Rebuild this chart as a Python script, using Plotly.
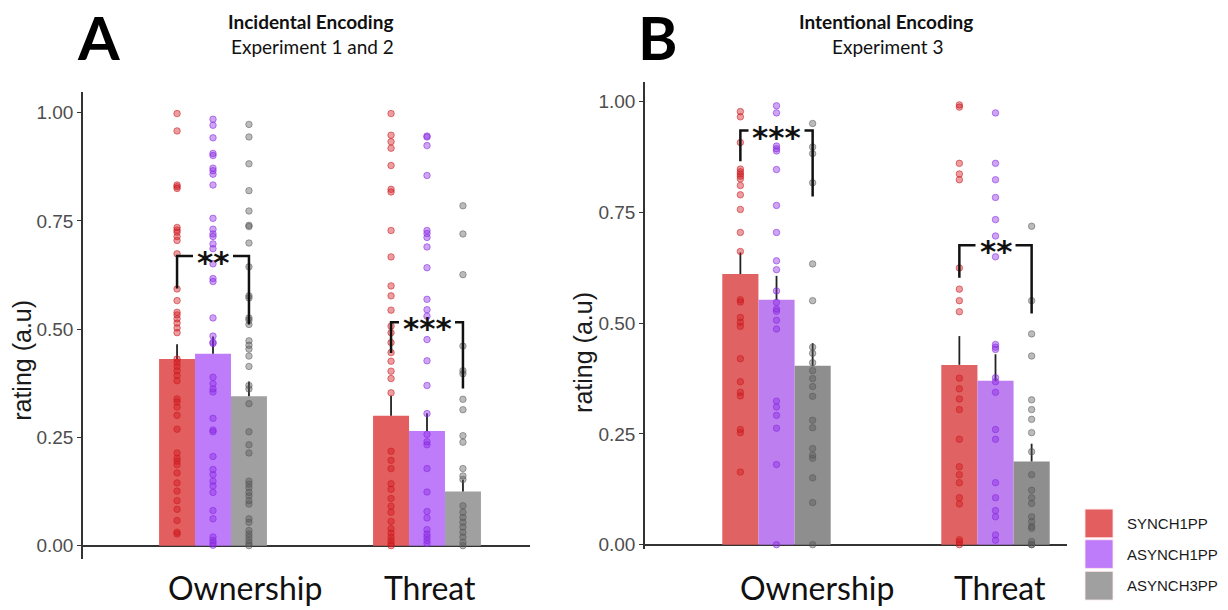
import plotly.graph_objects as go

W, H = 1228, 610

categories = ["Ownership", "Threat"]
conditions = ["SYNCH1PP", "ASYNCH1PP", "ASYNCH3PP"]

# ---------------- Panel A: Incidental Encoding (Experiment 1 and 2) ----------------
a_means_own = [0.431, 0.443, 0.345]
a_means_thr = [0.300, 0.265, 0.125]
a_err_own = [0.034, 0.040, 0.034]
a_err_thr = [0.046, 0.041, 0.027]

a_own_synch1 = [0.998, 0.958, 0.833, 0.829, 0.825, 0.735, 0.729, 0.724, 0.714, 0.705, 0.674,
                0.593, 0.566, 0.539, 0.533, 0.524, 0.514, 0.503, 0.492, 0.431, 0.423, 0.414,
                0.404, 0.393, 0.381, 0.339, 0.332, 0.320, 0.301, 0.269, 0.214, 0.202, 0.195,
                0.187, 0.168, 0.145, 0.126, 0.104, 0.084, 0.058, 0.031, 0.027]
a_own_asynch1 = [0.985, 0.971, 0.942, 0.906, 0.901, 0.872, 0.866, 0.858, 0.833, 0.756, 0.731,
                 0.720, 0.714, 0.697, 0.686, 0.651, 0.617, 0.610, 0.526, 0.484, 0.470, 0.467,
                 0.389, 0.374, 0.362, 0.355, 0.294, 0.267, 0.263, 0.206, 0.176, 0.164, 0.149,
                 0.138, 0.123, 0.081, 0.062, 0.020, 0.012, 0.006, 0.001]
a_own_asynch3 = [0.973, 0.944, 0.882, 0.820, 0.773, 0.740, 0.737, 0.699, 0.644, 0.577, 0.572,
                 0.526, 0.521, 0.511, 0.473, 0.463, 0.454, 0.438, 0.414, 0.370, 0.362, 0.328,
                 0.263, 0.233, 0.214, 0.149, 0.142, 0.134, 0.123, 0.115, 0.104, 0.096, 0.062,
                 0.054, 0.035, 0.027, 0.020, 0.012, 0.005, 0.000]
a_thr_synch1 = [0.998, 0.948, 0.933, 0.918, 0.878, 0.823, 0.817, 0.728, 0.667, 0.600, 0.577,
                0.544, 0.507, 0.492, 0.469, 0.446, 0.426, 0.403, 0.386, 0.353, 0.218, 0.197,
                0.178, 0.143, 0.130, 0.109, 0.091, 0.077, 0.056, 0.039, 0.029, 0.020, 0.012,
                0.005, 0.000]
a_thr_asynch1 = [0.946, 0.944, 0.924, 0.855, 0.728, 0.721, 0.712, 0.690, 0.642, 0.569, 0.545,
                 0.530, 0.476, 0.427, 0.370, 0.305, 0.257, 0.240, 0.233, 0.178, 0.124, 0.079,
                 0.064, 0.037, 0.027, 0.020, 0.012, 0.005]
a_thr_asynch3 = [0.785, 0.720, 0.626, 0.461, 0.404, 0.397, 0.338, 0.314, 0.254, 0.239, 0.178,
                 0.161, 0.153, 0.092, 0.077, 0.065, 0.054, 0.043, 0.031, 0.020, 0.008, 0.000]

# ---------------- Panel B: Intentional Encoding (Experiment 3) ----------------
b_means_own = [0.611, 0.553, 0.404]
b_means_thr = [0.406, 0.370, 0.188]
b_err_own = [0.049, 0.054, 0.051]
b_err_thr = [0.065, 0.060, 0.040]

b_own_synch1 = [0.978, 0.966, 0.908, 0.848, 0.842, 0.837, 0.832, 0.826, 0.811, 0.790, 0.757,
                0.705, 0.662, 0.553, 0.548, 0.513, 0.502, 0.493, 0.420, 0.368, 0.344, 0.336,
                0.260, 0.253, 0.164]
b_own_asynch1 = [0.991, 0.975, 0.900, 0.894, 0.889, 0.847, 0.766, 0.705, 0.641, 0.621, 0.573,
                 0.547, 0.532, 0.527, 0.507, 0.487, 0.324, 0.311, 0.292, 0.263, 0.181, 0.000]
b_own_asynch3 = [0.951, 0.898, 0.883, 0.817, 0.634, 0.551, 0.446, 0.432, 0.411, 0.393, 0.375,
                 0.357, 0.335, 0.281, 0.264, 0.217, 0.202, 0.195, 0.151, 0.095, 0.000]
b_thr_synch1 = [0.993, 0.988, 0.861, 0.837, 0.824, 0.625, 0.577, 0.551, 0.526, 0.376, 0.352,
                0.329, 0.305, 0.238, 0.176, 0.158, 0.140, 0.106, 0.092, 0.011, 0.006, 0.000]
b_thr_asynch1 = [0.975, 0.861, 0.824, 0.784, 0.734, 0.697, 0.650, 0.452, 0.446, 0.441, 0.377,
                 0.368, 0.344, 0.260, 0.238, 0.140, 0.106, 0.077, 0.063, 0.022, 0.010]
b_thr_asynch3 = [0.719, 0.551, 0.476, 0.426, 0.327, 0.305, 0.283, 0.253, 0.210, 0.158, 0.123,
                 0.106, 0.093, 0.063, 0.052, 0.041, 0.037, 0.007, 0.000, 0.000]

# significance brackets: [top, left-bottom, right-bottom], label
a_sig_own = [0.669, 0.594, 0.511]
a_sig_thr = [0.516, 0.445, 0.363]
b_sig_own = [0.935, 0.866, 0.786]
b_sig_thr = [0.676, 0.603, 0.522]
a_sig_labels = ["**", "***"]
b_sig_labels = ["***", "**"]

tick_vals = [0, 0.25, 0.5, 0.75, 1.0]
tick_text = ["0.00", "0.25", "0.50", "0.75", "1.00"]

bar_colors_a = ["#e35e5e", "#be7cfb", "#a0a0a0"]
bar_colors_b = ["#e06262", "#bd7ef0", "#8e8e8e"]
pt_fill = ["rgba(205,25,30,0.42)", "rgba(135,40,225,0.42)", "rgba(85,85,85,0.40)"]
pt_line = ["rgba(205,25,30,0.55)", "rgba(135,40,225,0.55)", "rgba(85,85,85,0.50)"]

fig = go.Figure()

panels = [
    dict(xa="x", ya="y", means=[a_means_own, a_means_thr], errs=[a_err_own, a_err_thr],
         pts=[[a_own_synch1, a_own_asynch1, a_own_asynch3], [a_thr_synch1, a_thr_asynch1, a_thr_asynch3]],
         sig=[a_sig_own, a_sig_thr], labels=a_sig_labels, colors=bar_colors_a, w=0.168, pxu=214.0),
    dict(xa="x2", ya="y2", means=[b_means_own, b_means_thr], errs=[b_err_own, b_err_thr],
         pts=[[b_own_synch1, b_own_asynch1, b_own_asynch3], [b_thr_synch1, b_thr_asynch1, b_thr_asynch3]],
         sig=[b_sig_own, b_sig_thr], labels=b_sig_labels, colors=bar_colors_b, w=0.165, pxu=219.0),
]

annotations = []
for p in panels:
    w = p["w"]
    for i, cond in enumerate(conditions):
        xs = [c + 1 + (i - 1) * w for c in range(len(categories))]
        ys = [p["means"][c][i] for c in range(len(categories))]
        es = [p["errs"][c][i] for c in range(len(categories))]
        fig.add_trace(go.Bar(
            x=xs, y=ys, width=w, xaxis=p["xa"], yaxis=p["ya"],
            marker=dict(color=p["colors"][i], line=dict(width=0)),
            error_y=dict(type="data", symmetric=False, array=es, arrayminus=[0] * len(es),
                         color="#222222", thickness=1.8, width=0),
            name=cond, showlegend=False))
    for c in range(len(categories)):
        for i in range(len(conditions)):
            vals = p["pts"][c][i]
            xpos = c + 1 + (i - 1) * w
            fig.add_trace(go.Scatter(
                x=[xpos] * len(vals), y=vals, mode="markers", xaxis=p["xa"], yaxis=p["ya"],
                marker=dict(size=6.5, color=pt_fill[i], line=dict(width=1, color=pt_line[i])),
                showlegend=False, hoverinfo="y"))
    # brackets
    for c in range(len(categories)):
        top, lb, rb = p["sig"][c]
        lab = p["labels"][c]
        xc = c + 1
        xl = xc - w
        xr = xc + w
        g = (len(lab) * 16.0 / 2 + 4) / p["pxu"]
        fig.add_trace(go.Scatter(
            x=[xl, xl, xc - g, None, xc + g, xr, xr],
            y=[lb, top, top, None, top, top, rb],
            mode="lines", xaxis=p["xa"], yaxis=p["ya"],
            line=dict(color="#111111", width=2.5), showlegend=False, hoverinfo="skip"))
        annotations.append(dict(
            x=xc, y=top, xref=p["xa"], yref=p["ya"], text="<b>" + lab + "</b>", showarrow=False,
            font=dict(family="DejaVu Sans", size=31, color="#111111"), yanchor="middle", yshift=-6))

# axes geometry (pixels)
def pxx(x):
    return x / W

def pyy(y):
    return 1 - y / H

common_y = dict(showgrid=False, zeroline=True, zerolinecolor="#333333", zerolinewidth=1.5,
                showline=True, linecolor="#333333", linewidth=1.5, ticks="outside", ticklen=4,
                tickcolor="#333333", tickwidth=1.2, tickvals=tick_vals, ticktext=tick_text,
                tickfont=dict(family="Liberation Sans", size=19, color="#4d4d4d"))
common_x = dict(showgrid=False, zeroline=False, showline=False, showticklabels=False, ticks="")

fig.update_layout(
    width=W, height=H, margin=dict(l=0, r=0, t=0, b=0),
    paper_bgcolor="white", plot_bgcolor="white", barmode="overlay", showlegend=False,
    xaxis=dict(domain=[pxx(83), pxx(530)], range=[0.3925, 2.4813], anchor="y", **common_x),
    yaxis=dict(domain=[pyy(565), pyy(93)], range=[-0.0297, 1.048], anchor="x", **common_y),
    xaxis2=dict(domain=[pxx(645), pxx(1067)], range=[0.3995, 2.3265], anchor="y2", **common_x),
    yaxis2=dict(domain=[pyy(555), pyy(83)], range=[-0.0089, 1.0446], anchor="x2", **common_y),
)

# category labels
cat_shift_a = [32, 3]
cat_shift_b = [40, 4]
for xa, shifts in (("x", cat_shift_a), ("x2", cat_shift_b)):
    for c, cat in enumerate(categories):
        annotations.append(dict(x=c + 1, y=0, xref=xa, yref="paper", text=cat,
                                xshift=shifts[c], yshift=-5, borderpad=0, showarrow=False,
                                yanchor="bottom",
                                font=dict(family="Lato", size=32, color="#111111")))

# y-axis titles
annotations.append(dict(x=pxx(22), y=pyy(365), xref="paper", yref="paper", text="rating (a.u)",
                        textangle=-90, showarrow=False, xanchor="center", yanchor="middle",
                        font=dict(family="Liberation Sans", size=25, color="#1a1a1a")))
annotations.append(dict(x=pxx(583), y=pyy(357), xref="paper", yref="paper", text="rating (a.u)",
                        textangle=-90, showarrow=False, xanchor="center", yanchor="middle",
                        font=dict(family="Liberation Sans", size=25, color="#1a1a1a")))

# panel letters and titles
annotations.append(dict(x=pxx(99), y=1, xref="paper", yref="paper", text="<b>A</b>",
                        showarrow=False, xanchor="center", yanchor="top", borderpad=0,
                        font=dict(family="Lato", size=60, color="#000000", weight=900)))
annotations.append(dict(x=pxx(658), y=1, xref="paper", yref="paper", text="<b>B</b>",
                        showarrow=False, xanchor="center", yanchor="top", borderpad=0,
                        font=dict(family="Lato", size=60, color="#000000", weight=900)))
annotations.append(dict(x=pxx(310), y=pyy(22), xref="paper", yref="paper", text="<b>Incidental Encoding</b>",
                        showarrow=False, xanchor="center", yanchor="middle",
                        font=dict(family="Lato", size=19, color="#111111")))
annotations.append(dict(x=pxx(312), y=pyy(47), xref="paper", yref="paper", text="Experiment 1 and 2",
                        showarrow=False, xanchor="center", yanchor="middle",
                        font=dict(family="Lato", size=19, color="#111111")))
annotations.append(dict(x=pxx(886), y=pyy(22), xref="paper", yref="paper", text="<b>Intentional Encoding</b>",
                        showarrow=False, xanchor="center", yanchor="middle",
                        font=dict(family="Lato", size=19, color="#111111")))
annotations.append(dict(x=pxx(887), y=pyy(47), xref="paper", yref="paper", text="Experiment 3",
                        showarrow=False, xanchor="center", yanchor="middle",
                        font=dict(family="Lato", size=19, color="#111111")))

# legend (manual)
shapes = []
leg_tops = [515, 546, 578]
for i, cond in enumerate(conditions):
    t = leg_tops[i]
    shapes.append(dict(type="rect", xref="paper", yref="paper", x0=pxx(1085), x1=pxx(1113),
                       y0=pyy(t + 29), y1=pyy(t), fillcolor=bar_colors_a[i],
                       line=dict(width=1, color="rgba(255,235,235,0.8)")))
    annotations.append(dict(x=pxx(1125), y=pyy(t + 14.5), xref="paper", yref="paper", text=cond,
                            showarrow=False, xanchor="left", yanchor="middle",
                            font=dict(family="Liberation Sans", size=15, color="#1a1a1a")))

fig.update_layout(annotations=annotations, shapes=shapes)

fig.write_html("out.html", config={"displayModeBar": False},
               post_script="document.body.style.margin='0';document.body.style.overflow='hidden';")
